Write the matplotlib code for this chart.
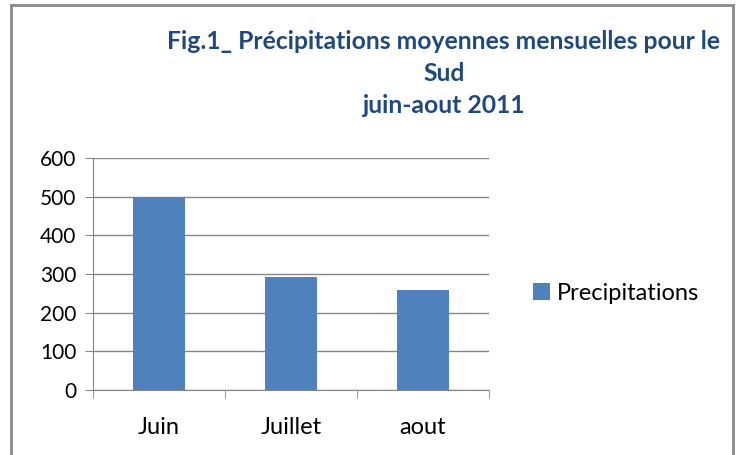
import matplotlib.pyplot as plt

# data
months = ["Juin", "Juillet", "aout"]
precip = [500, 293, 259]
yticks = [0, 100, 200, 300, 400, 500, 600]

title = "Fig.1_ Précipitations moyennes mensuelles pour le\nSud\njuin-aout 2011"

plt.rcParams['font.family'] = ['Lato', 'DejaVu Sans']

fig = plt.figure(figsize=(7.41, 4.55), dpi=100)
ax = fig.add_axes([0.1255, 0.1429, 0.5344, 0.5098])

x = range(len(months))
ax.bar(x, precip, width=0.4, color="#4F81BD", label="Precipitations", zorder=3)

ax.set_xlim(-0.5, len(months) - 0.5)
ax.set_ylim(0, 600)
ax.set_yticks(yticks)
ax.set_xticks(list(x))
ax.set_xticklabels(months)
ax.set_xticks([i - 0.5 for i in range(len(months) + 1)], minor=True)

ax.grid(axis="y", color="#868686", linewidth=1, zorder=0)
for s in ["top", "right"]:
    ax.spines[s].set_visible(False)
ax.spines["left"].set_color("#868686")
ax.spines["bottom"].set_color("#868686")

ax.tick_params(axis="y", length=6, color="#868686", pad=6, labelsize=15)
ax.tick_params(axis="x", which="major", length=0, pad=19.5, labelsize=17)
ax.tick_params(axis="x", which="minor", length=6, color="#868686")

fig.text(0.599, 0.934, title, ha="center", va="top", fontsize=17.8,
         fontweight="bold", color="#1F497D", linespacing=1.48)

ax.legend(loc="center left", bbox_to_anchor=(0.69, 0.356),
          bbox_transform=fig.transFigure, frameon=False, fontsize=17,
          handlelength=0.72, handleheight=0.72, handletextpad=0.3)

# outer chart border (left, top, right only visible)
for xs, ys in [([11, 11], [455, 5]), ([11, 733], [5, 5]), ([733, 733], [5, 455])]:
    fig.add_artist(plt.Line2D([v / 741 for v in xs], [1 - v / 455 for v in ys],
                              color="#898989", lw=2, transform=fig.transFigure))

fig.savefig("out.png", dpi=100)
